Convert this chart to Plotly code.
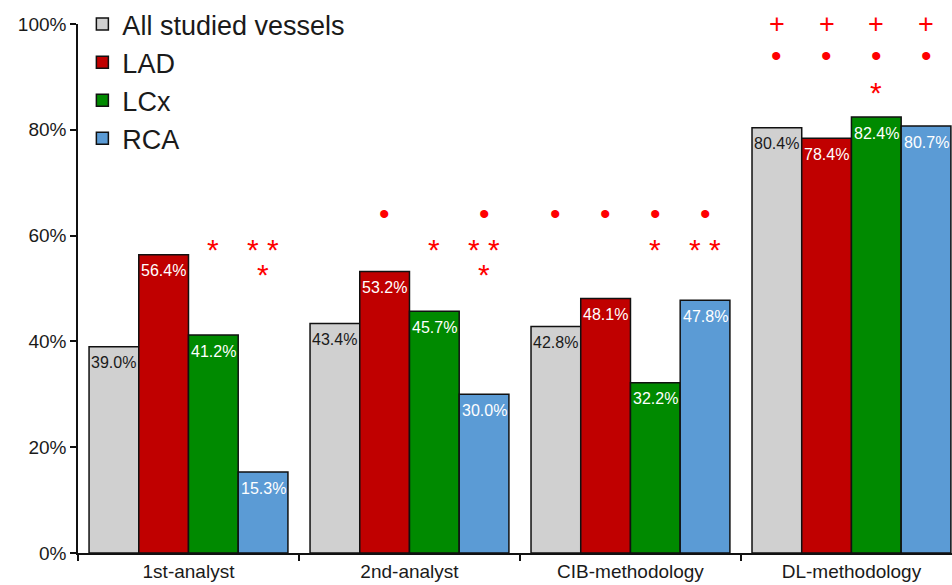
import plotly.graph_objects as go

# データ（図から読み取った値, %）
categories = ["1st-analyst", "2nd-analyst", "CIB-methodology", "DL-methodology"]
series_names = ["All studied vessels", "LAD", "LCx", "RCA"]
all_vessels = [39.0, 43.4, 42.8, 80.4]
lad = [56.4, 53.2, 48.1, 78.4]
lcx = [41.2, 45.7, 32.2, 82.4]
rca = [15.3, 30.0, 47.8, 80.7]
y_ticks = [0, 20, 40, 60, 80, 100]

# 有意差マーク: (カテゴリ番号, 系列番号, 記号, 高さ%)
sig_marks = [
    (0, 2, "*", 58.2), (0, 3, "* *", 58.2), (0, 3, "*", 53.4),
    (1, 1, "•", 64.2), (1, 2, "*", 58.2), (1, 3, "•", 64.2),
    (1, 3, "* *", 58.2), (1, 3, "*", 53.4),
    (2, 0, "•", 64.2), (2, 1, "•", 64.2), (2, 2, "•", 64.2),
    (2, 2, "*", 58.2), (2, 3, "•", 64.2), (2, 3, "* *", 58.2),
    (3, 0, "+", 100.0), (3, 1, "+", 100.0), (3, 2, "+", 100.0), (3, 3, "+", 100.0),
    (3, 0, "•", 94.0), (3, 1, "•", 94.0), (3, 2, "•", 94.0), (3, 3, "•", 94.0),
    (3, 2, "*", 87.8),
]

_COLORS = ["#D0D0D0", "#C00000", "#008A00", "#5B9BD5"]
_TEXT_COLORS = ["#1A1A1A", "white", "white", "white"]
_FONT = "Liberation Sans, Arial, sans-serif"
_BARGAP = 0.1

values = [all_vessels, lad, lcx, rca]

fig = go.Figure()
for name, vals, color in zip(series_names, values, _COLORS):
    fig.add_trace(go.Bar(
        x=categories,
        y=vals,
        name=name,
        marker=dict(color=color, line=dict(color="#111111", width=1.5)),
        hoverinfo="skip",
    ))

# バー中心位置（グループ内オフセット）
n = len(series_names)
bar_w = (1 - _BARGAP) / n


def _bar_center(cat_idx, ser_idx):
    return cat_idx - (1 - _BARGAP) / 2 + bar_w * (ser_idx + 0.5)


annotations = []

# バー上端のすぐ内側に値ラベル
for ser_idx, (vals, tcolor) in enumerate(zip(values, _TEXT_COLORS)):
    for cat_idx, v in enumerate(vals):
        annotations.append(dict(
            x=_bar_center(cat_idx, ser_idx), y=v,
            xref="x", yref="y",
            text=f"{v:.1f}%", showarrow=False,
            font=dict(color=tcolor, size=16, family=_FONT),
            yshift=-16,
        ))

# 有意差マーク
for cat_idx, ser_idx, sym, level in sig_marks:
    if sym == "•":
        size, shift = 30, 0
    elif sym == "+":
        size, shift = 27, 0
    else:
        size, shift = 30, -4
    annotations.append(dict(
        x=_bar_center(cat_idx, ser_idx), y=level,
        xref="x", yref="y",
        text=sym, showarrow=False,
        font=dict(color="#FF0000", size=size, family=_FONT),
        yshift=shift,
    ))

fig.update_layout(
    width=952,
    height=585,
    margin=dict(l=78, r=0, t=20, b=32),
    paper_bgcolor="white",
    plot_bgcolor="white",
    barmode="group",
    bargap=_BARGAP,
    bargroupgap=0,
    font=dict(family=_FONT, color="#1A1A1A"),
    showlegend=True,
    legend=dict(
        x=0.005, y=1.046, xanchor="left", yanchor="top",
        font=dict(size=27, family=_FONT, color="#1A1A1A"),
        bgcolor="rgba(0,0,0,0)",
        tracegroupgap=0,
        itemclick=False,
    ),
    xaxis=dict(
        type="category",
        range=[-0.5, 3.455],
        showline=True, linecolor="#111111", linewidth=1.5,
        ticks="outside", tickson="boundaries", ticklen=6,
        tickcolor="#111111", tickwidth=1.5,
        tickfont=dict(size=19, family=_FONT, color="#1A1A1A"),
        showgrid=False, zeroline=False,
    ),
    yaxis=dict(
        range=[0, 100],
        tickvals=y_ticks,
        ticktext=[f"{t}%" for t in y_ticks],
        showline=True, linecolor="#111111", linewidth=1.5,
        ticks="outside", ticklen=6, tickcolor="#111111", tickwidth=1.5,
        tickfont=dict(size=19, family=_FONT, color="#1A1A1A"),
        showgrid=False, zeroline=False,
    ),
    annotations=annotations,
)

# ページ本体の既定余白 (8px) を消して図を左上に揃える
fig.write_html(
    "out.html",
    config={"displayModeBar": False},
    post_script="document.body.style.margin='0';document.body.style.overflow='hidden';",
)
